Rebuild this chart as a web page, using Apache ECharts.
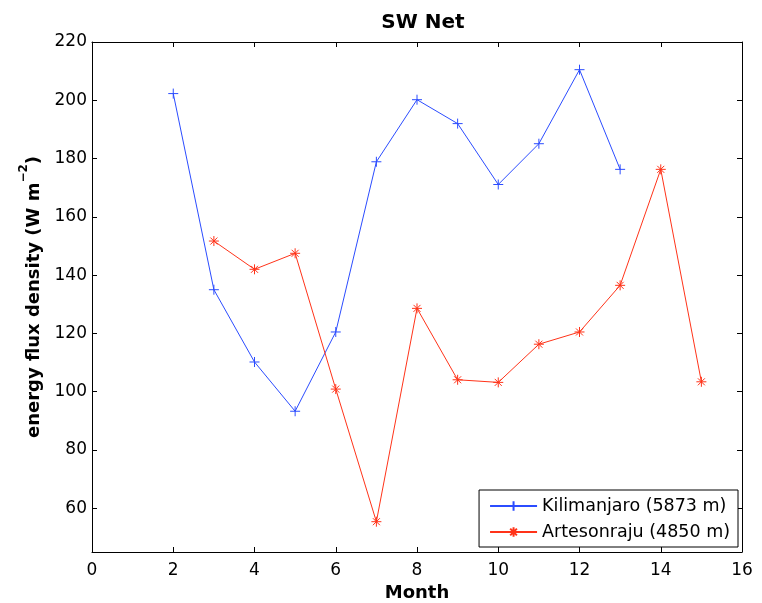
<!DOCTYPE html>
<html>
<head>
<meta charset="utf-8">
<script src="https://cdn.jsdelivr.net/npm/echarts@6/dist/echarts.min.js"></script>
<style>
  html, body { margin: 0; padding: 0; background: #fff; }
  #chart { width: 762px; height: 603px; }
</style>
</head>
<body>
<div id="chart"></div>
<script>
  // values
  var kiliMonths = [2, 3, 4, 5, 6, 7, 8, 9, 10, 11, 12, 13];
  var kiliValues = [202.3, 135, 110.2, 93.3, 120.5, 178.9, 200.2, 192, 171.1, 185.1, 210.5, 176.3];
  var arteMonths = [3, 4, 5, 6, 7, 8, 9, 10, 11, 12, 13, 14, 15];
  var arteValues = [151.7, 142, 147.5, 100.9, 55.4, 128.6, 104.1, 103.2, 116.3, 120.5, 136.5, 176.3, 103.4];
  var yTicks = [60, 80, 100, 120, 140, 160, 180, 200, 220];

  var blue = '#2b4cff';
  var red = '#ff3319';
  var plus = 'path://M0,-1L0,1M-1,0L1,0';
  var star = 'path://M0,-1L0,1M-1,0L1,0M-0.7,-0.7L0.7,0.7M-0.7,0.7L0.7,-0.7';
  var font = 'DejaVu Sans, Liberation Sans, sans-serif';

  function pairs(xs, ys) {
    return xs.map(function (x, i) { return [x, ys[i]]; });
  }

  var chart = echarts.init(document.getElementById('chart'));
  var option = {
    animation: false,
    backgroundColor: '#fff',
    title: {
      text: 'SW Net',
      left: 418,
      textAlign: 'center',
      top: 8,
      textStyle: { fontFamily: font, fontSize: 20, fontWeight: 'bold', color: '#000' }
    },
    grid: { left: 92, right: 20, top: 42, bottom: 51, outerBoundsMode: 'none' },
    legend: {
      orient: 'vertical',
      right: 24,
      bottom: 56,
      backgroundColor: '#fff',
      borderColor: '#000',
      borderWidth: 1,
      borderRadius: 0,
      padding: [7, 8, 6, 10],
      itemGap: 8,
      itemWidth: 47,
      itemHeight: 12,
      textStyle: { fontFamily: font, fontSize: 17.5, color: '#000' },
      data: [
        { name: 'Kilimanjaro (5873 m)' },
        { name: 'Artesonraju (4850 m)' }
      ]
    },
    xAxis: [{
      type: 'value',
      min: 0, max: 16, interval: 2,
      name: 'Month',
      nameLocation: 'middle',
      nameGap: 31,
      nameTextStyle: { fontFamily: font, fontSize: 18, fontWeight: 'bold', color: '#000' },
      axisLine: { onZero: false, lineStyle: { color: '#000', width: 1 } },
      axisTick: { inside: true, length: 5, lineStyle: { color: '#000' } },
      axisLabel: { fontFamily: font, fontSize: 17, color: '#000', margin: 10 },
      splitLine: { show: false }
    }, {
      type: 'value',
      position: 'top',
      min: 0, max: 16, interval: 2,
      axisLine: { onZero: false, lineStyle: { color: '#000', width: 1 } },
      axisTick: { inside: true, length: 5, lineStyle: { color: '#000' } },
      axisLabel: { show: false },
      splitLine: { show: false }
    }],
    yAxis: [{
      type: 'value',
      min: 45, max: 220,
      name: '{a|energy flux density (W m}{s|−2}{a|)}',
      nameLocation: 'middle',
      nameGap: 48,
      nameTextStyle: {
        rich: {
          a: { fontFamily: font, fontSize: 18, fontWeight: 'bold', color: '#000', lineHeight: 26, verticalAlign: 'bottom' },
          s: { fontFamily: font, fontSize: 12, fontWeight: 'bold', color: '#000', lineHeight: 26, verticalAlign: 'top', padding: [0, 0, 8, 0] }
        }
      },
      axisLine: { onZero: false, lineStyle: { color: '#000', width: 1 } },
      axisTick: { inside: true, length: 5, lineStyle: { color: '#000' }, customValues: yTicks },
      axisLabel: { fontFamily: font, fontSize: 17, color: '#000', margin: 5, customValues: yTicks },
      splitLine: { show: false }
    }, {
      type: 'value',
      position: 'right',
      min: 45, max: 220,
      axisLine: { onZero: false, lineStyle: { color: '#000', width: 1 } },
      axisTick: { inside: true, length: 5, lineStyle: { color: '#000' }, customValues: yTicks },
      axisLabel: { show: false, customValues: yTicks },
      splitLine: { show: false }
    }],
    series: [{
      name: 'Kilimanjaro (5873 m)',
      type: 'line',
      data: pairs(kiliMonths, kiliValues),
      symbol: plus,
      symbolSize: 10,
      lineStyle: { color: blue, width: 1 },
      itemStyle: { color: blue, borderColor: blue, borderWidth: 1 }
    }, {
      name: 'Artesonraju (4850 m)',
      type: 'line',
      data: pairs(arteMonths, arteValues),
      symbol: star,
      symbolSize: 10,
      lineStyle: { color: red, width: 1 },
      itemStyle: { color: red, borderColor: red, borderWidth: 1 }
    }]
  };
  chart.setOption(option);
</script>
</body>
</html>
